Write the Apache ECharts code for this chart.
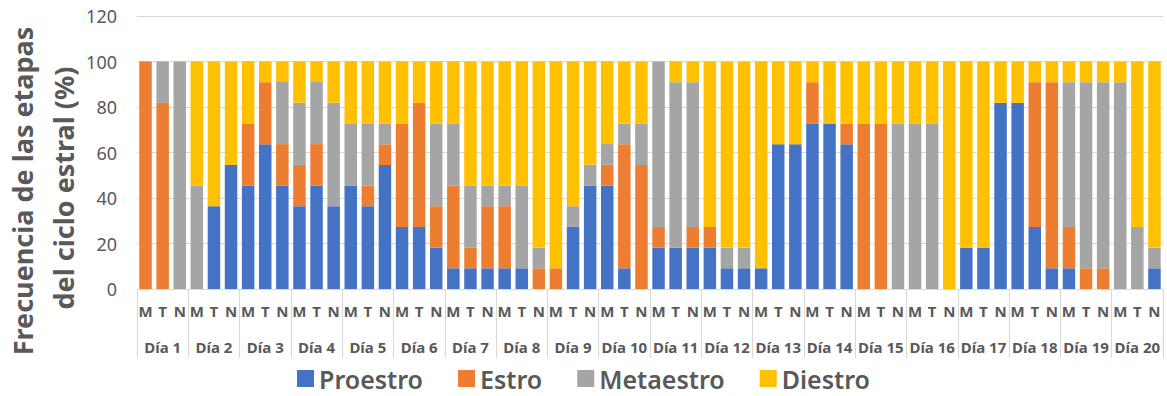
<!DOCTYPE html>
<html>
<head>
<meta charset="utf-8">
<script src="https://cdn.jsdelivr.net/npm/echarts@6/dist/echarts.min.js"></script>
<style>
  html, body { margin: 0; padding: 0; background: #ffffff; }
  #chart { width: 1167px; height: 396px; }
</style>
</head>
<body>
<div id="chart"></div>
<script>
// Time of day within each day: mañana, tarde, noche
const shifts = ['M', 'T', 'N'];
const days = ['Día 1', 'Día 2', 'Día 3', 'Día 4', 'Día 5', 'Día 6', 'Día 7', 'Día 8', 'Día 9', 'Día 10',
              'Día 11', 'Día 12', 'Día 13', 'Día 14', 'Día 15', 'Día 16', 'Día 17', 'Día 18', 'Día 19', 'Día 20'];
const yTicks = [0, 20, 40, 60, 80, 100, 120];

// Percentage of each stage, one value per day/shift (M, T, N for Día 1 ... Día 20)
const proestro = [
  0, 0, 0,        0, 36.4, 54.5,     45.5, 63.6, 45.5,   36.4, 45.5, 36.4,   45.5, 36.4, 54.5,
  27.3, 27.3, 18.2, 9.1, 9.1, 9.1,   9.1, 9.1, 0,        0, 27.3, 45.5,      45.5, 9.1, 0,
  18.2, 18.2, 18.2, 18.2, 9.1, 9.1,  9.1, 63.6, 63.6,    72.7, 72.7, 63.6,   0, 0, 0,
  0, 0, 0,        18.2, 18.2, 81.8,  81.8, 27.3, 9.1,    9.1, 0, 0,          0, 0, 9.1
];
const estro = [
  100, 81.8, 0,   0, 0, 0,           27.3, 27.3, 18.2,   18.2, 18.2, 0,      0, 9.1, 9.1,
  45.5, 54.5, 18.2, 36.4, 9.1, 27.3, 27.3, 0, 9.1,       9.1, 0, 0,          9.1, 54.5, 54.5,
  9.1, 0, 9.1,    9.1, 0, 0,         0, 0, 0,            18.2, 0, 9.1,       72.7, 72.7, 0,
  0, 0, 0,        0, 0, 0,           0, 63.6, 81.8,      18.2, 9.1, 9.1,     0, 0, 0
];
const metaestro = [
  0, 18.2, 100,   45.5, 0, 0,        0, 0, 27.3,         27.3, 27.3, 45.5,   27.3, 27.3, 9.1,
  0, 0, 36.4,     27.3, 27.3, 9.1,   9.1, 36.4, 9.1,     0, 9.1, 9.1,        9.1, 9.1, 18.2,
  72.7, 72.7, 63.6, 0, 9.1, 9.1,     0, 0, 0,            0, 0, 0,            0, 0, 72.7,
  72.7, 72.7, 0,  0, 0, 0,           0, 0, 0,            63.6, 81.8, 81.8,   90.9, 27.3, 9.1
];
const diestro = [
  0, 0, 0,        54.5, 63.6, 45.5,  27.3, 9.1, 9.1,     18.2, 9.1, 18.2,    27.3, 27.3, 27.3,
  27.3, 18.2, 27.3, 27.3, 54.5, 54.5, 54.5, 54.5, 81.8,  90.9, 63.6, 45.5,   36.4, 27.3, 27.3,
  0, 9.1, 9.1,    72.7, 81.8, 81.8,  90.9, 36.4, 36.4,   9.1, 27.3, 27.3,    27.3, 27.3, 27.3,
  27.3, 27.3, 100, 81.8, 81.8, 18.2, 18.2, 9.1, 9.1,     9.1, 9.1, 9.1,      9.1, 72.7, 81.8
];

const seriesNames = ['Proestro', 'Estro', 'Metaestro', 'Diestro'];
const seriesColors = ['#4472C4', '#ED7D31', '#A5A5A5', '#FFC000'];

// One category per bar: the shift letters repeated for every day
const barCategories = [];
days.forEach(() => shifts.forEach(s => barCategories.push(s)));

const FONT = '"Noto Sans", "Open Sans", sans-serif';
const TEXT = '#595959';
const LINE = '#d9d9d9';

const chart = echarts.init(document.getElementById('chart'), null, { renderer: 'svg' });

const makeSeries = (name, data, color) => ({
  name,
  type: 'bar',
  stack: 'total',
  xAxisIndex: 0,
  data,
  barCategoryGap: '27%',
  itemStyle: { color },
  emphasis: { disabled: true }
});

chart.setOption({
  animation: false,
  textStyle: { fontFamily: FONT },
  grid: { left: 137, right: 4, top: 16, bottom: 107, containLabel: false },
  legend: {
    data: seriesNames,
    top: 366,
    left: 'center',
    padding: 0,
    icon: 'rect',
    itemWidth: 17,
    itemHeight: 17,
    itemGap: 35,
    selectedMode: false,
    textStyle: { fontFamily: FONT, fontSize: 25, fontWeight: 600, color: TEXT }
  },
  xAxis: [
    {
      type: 'category',
      data: barCategories,
      position: 'bottom',
      axisLine: { show: true, lineStyle: { color: LINE, width: 1 } },
      axisTick: { show: false },
      axisLabel: { interval: 0, margin: 14, fontFamily: FONT, fontSize: 15, fontWeight: 'bold', color: TEXT },
      splitLine: { show: false }
    },
    {
      type: 'category',
      data: days,
      position: 'bottom',
      axisLine: { show: false },
      axisTick: { show: true, interval: 0, length: 69, lineStyle: { color: LINE, width: 1 } },
      axisLabel: { interval: 0, margin: 50, fontFamily: FONT, fontSize: 15, fontWeight: 'bold', color: TEXT },
      splitLine: { show: false }
    }
  ],
  yAxis: {
    type: 'value',
    min: yTicks[0],
    max: yTicks[yTicks.length - 1],
    interval: yTicks[1] - yTicks[0],
    axisLine: { show: false },
    axisTick: { show: false },
    axisLabel: { margin: 20, fontFamily: FONT, fontSize: 18, color: TEXT },
    splitLine: { show: true, lineStyle: { color: LINE, width: 1 } }
  },
  graphic: [
    {
      type: 'text',
      x: 22, y: 191,
      rotation: Math.PI / 2,
      style: {
        text: 'Frecuencia de las etapas',
        font: 'bold 27px ' + FONT,
        fill: TEXT,
        textAlign: 'center', textVerticalAlign: 'middle',
        align: 'center', verticalAlign: 'middle'
      }
    },
    {
      type: 'text',
      x: 63, y: 188,
      rotation: Math.PI / 2,
      style: {
        text: 'del ciclo estral (%)',
        font: 'bold 27px ' + FONT,
        fill: TEXT,
        textAlign: 'center', textVerticalAlign: 'middle',
        align: 'center', verticalAlign: 'middle'
      }
    }
  ],
  series: [
    makeSeries(seriesNames[0], proestro, seriesColors[0]),
    makeSeries(seriesNames[1], estro, seriesColors[1]),
    makeSeries(seriesNames[2], metaestro, seriesColors[2]),
    makeSeries(seriesNames[3], diestro, seriesColors[3])
  ]
});
</script>
</body>
</html>
